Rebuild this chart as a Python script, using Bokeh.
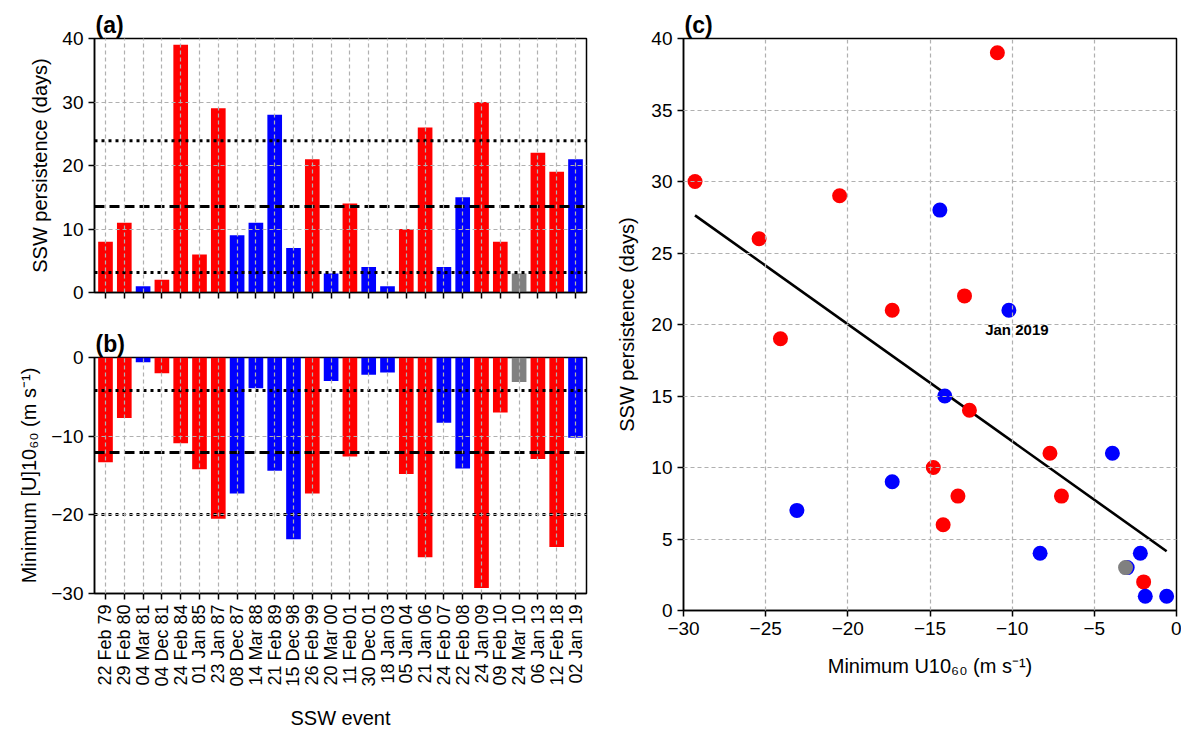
import numpy as np
from bokeh.plotting import figure
from bokeh.models import Range1d, FixedTicker, Span, ColumnDataSource
from bokeh.layouts import row, column
from bokeh.embed import file_html
from bokeh.resources import INLINE

# ---------------- data ----------------
events = ["22 Feb 79", "29 Feb 80", "04 Mar 81", "04 Dec 81", "24 Feb 84", "01 Jan 85",
          "23 Jan 87", "08 Dec 87", "14 Mar 88", "21 Feb 89", "15 Dec 98", "26 Feb 99",
          "20 Mar 00", "11 Feb 01", "30 Dec 01", "18 Jan 03", "05 Jan 04", "21 Jan 06",
          "24 Feb 07", "22 Feb 08", "24 Jan 09", "09 Feb 10", "24 Mar 10", "06 Jan 13",
          "12 Feb 18", "02 Jan 19"]
persistence = [8, 11, 1, 2, 39, 6, 29, 9, 11, 28, 7, 21, 3, 14, 4, 1, 10, 26, 4, 15,
               30, 8, 3, 22, 19, 21]
min_u10 = [-13.3, -7.7, -0.6, -2.0, -10.9, -14.2, -20.5, -17.3, -3.9, -14.4, -23.1, -17.3,
           -3.0, -12.6, -2.2, -1.9, -14.8, -25.4, -8.3, -14.1, -29.3, -7.0, -3.1, -12.9,
           -24.1, -10.2]
event_type = ["A", "A", "B", "A", "A", "A", "A", "B", "B", "B", "B", "A", "B", "A", "B",
              "B", "A", "A", "B", "B", "A", "A", "N", "A", "A", "B"]
y_ticks_a = [0, 10, 20, 30, 40]
y_ticks_b = [0, -10, -20, -30]
x_ticks_c = [-30, -25, -20, -15, -10, -5, 0]
y_ticks_c = [0, 5, 10, 15, 20, 25, 30, 35, 40]
annot_label = "Jan 2019"
annot_index = events.index("02 Jan 19")

# ---------------- styles ----------------
FONT = "Liberation Sans"
TICK_FS = "19px"
LABEL_FS = "20px"
CAT_FS = "18px"
COLORS = {"A": "#ff0000", "B": "#0000ff", "N": "#808080"}
GRID_COLOR = "#b0b0b0"

idx = list(range(len(events)))
colors = [COLORS[t] for t in event_type]
src = ColumnDataSource(dict(x=idx, pers=persistence, umin=min_u10, color=colors,
                            event=events))


def style(p, title):
    p.title.text = title
    p.title.text_font = FONT
    p.title.text_font_size = "23px"
    p.title.text_font_style = "bold"
    p.title.text_color = "black"
    p.title.align = "left"
    p.title.offset = 1
    p.title.standoff = 2
    p.outline_line_color = "black"
    p.outline_line_width = 1.5
    p.outline_line_alpha = 1.0
    for ax in (p.xaxis[0], p.yaxis[0]):
        ax.axis_line_color = "black"
        ax.axis_line_width = 1.5
        ax.major_tick_line_color = "black"
        ax.major_tick_line_width = 1.5
        ax.major_tick_out = 6
        ax.major_tick_in = 0
        ax.minor_tick_line_color = None
        ax.major_label_text_font = FONT
        ax.major_label_text_font_size = TICK_FS
        ax.major_label_text_color = "black"
        ax.axis_label_text_font = FONT
        ax.axis_label_text_font_size = LABEL_FS
        ax.axis_label_text_font_style = "normal"
        ax.axis_label_text_color = "black"
    for g in (p.xgrid[0], p.ygrid[0]):
        g.grid_line_color = GRID_COLOR
        g.grid_line_dash = "4 3"
        g.grid_line_width = 1.2
        g.level = "overlay"


def ref_lines(p, vals):
    m = float(np.mean(vals))
    s = float(np.std(vals))
    p.add_layout(Span(location=m, dimension="width", line_color="black",
                      line_width=3, line_dash="10 5"))
    for loc in (m - s, m + s):
        p.add_layout(Span(location=loc, dimension="width", line_color="black",
                          line_width=3, line_dash="3 4"))


x_lo, x_hi = -0.585, len(events) - 1 + 0.585

# ---------------- panel (a) ----------------
pa = figure(width=607, height=317, x_range=Range1d(x_lo, x_hi), y_range=Range1d(0, 40),
            output_backend="svg", toolbar_location=None,
            min_border_left=94, min_border_right=21, min_border_top=38, min_border_bottom=25)
pa.vbar(x="x", top="pers", bottom=0, width=0.78, color="color", line_color=None, source=src)
style(pa, "(a)")
pa.xaxis.ticker = FixedTicker(ticks=idx)
pa.xaxis.major_label_text_color = None
pa.yaxis.ticker = FixedTicker(ticks=y_ticks_a)
pa.yaxis.axis_label = "SSW persistence (days)"
pa.yaxis.axis_label_standoff = 8
ref_lines(pa, persistence)

# ---------------- panel (b) ----------------
pb = figure(width=607, height=414, x_range=Range1d(x_lo, x_hi), y_range=Range1d(-30, 0),
            output_backend="svg", toolbar_location=None,
            min_border_left=94, min_border_right=21, min_border_top=40, min_border_bottom=120)
pb.vbar(x="x", top=0, bottom="umin", width=0.78, color="color", line_color=None, source=src)
style(pb, "(b)")
pb.xaxis.ticker = FixedTicker(ticks=idx)
pb.xaxis.major_label_overrides = {i: e for i, e in enumerate(events)}
pb.xaxis.major_label_orientation = np.pi / 2
pb.xaxis.major_label_text_font_size = CAT_FS
pb.xaxis.axis_label = "SSW event"
pb.xaxis.axis_label_standoff = 17
pb.yaxis.ticker = FixedTicker(ticks=y_ticks_b)
pb.yaxis.major_label_overrides = {t: ("\u2212%d" % -t if t < 0 else "%d" % t) for t in y_ticks_b}
pb.yaxis.axis_label = "Minimum [U]10\u2086\u2080 (m s\u207b\u00b9)"
pb.yaxis.axis_label_standoff = 8
ref_lines(pb, min_u10)

# ---------------- panel (c) ----------------
pc = figure(width=574, height=705, x_range=Range1d(-30, 0), y_range=Range1d(0, 40),
            output_backend="svg", toolbar_location=None,
            min_border_left=76, min_border_right=5, min_border_top=38, min_border_bottom=95)
style(pc, "(c)")
pc.xaxis.ticker = FixedTicker(ticks=x_ticks_c)
pc.xaxis.major_label_overrides = {t: ("\u2212%d" % -t if t < 0 else "%d" % t) for t in x_ticks_c}
pc.yaxis.ticker = FixedTicker(ticks=y_ticks_c)
pc.xaxis.axis_label = "Minimum U10\u2086\u2080 (m s\u207b\u00b9)"
pc.yaxis.axis_label = "SSW persistence (days)"
pc.xaxis.axis_label_standoff = 17
pc.yaxis.axis_label_standoff = 10

xs = np.array(min_u10)
ys = np.array(persistence)
slope, intercept = np.polyfit(xs, ys, 1)
fx = np.array([xs.min(), xs.max()])
pc.line(fx, slope * fx + intercept, line_color="black", line_width=2.6)
pc.scatter(x="umin", y="pers", color="color", size=15, line_color=None, source=src)
pc.text(x=[min_u10[annot_index]], y=[persistence[annot_index]], text=[annot_label],
        x_offset=8, y_offset=19, text_align="center", text_baseline="middle",
        text_font_size="15px", text_font_style="bold", text_color="black",
        text_font={"value": FONT})

layout = row(column(pa, pb, spacing=0), pc, spacing=0)
open("out.html", "w").write(file_html(layout, INLINE))
